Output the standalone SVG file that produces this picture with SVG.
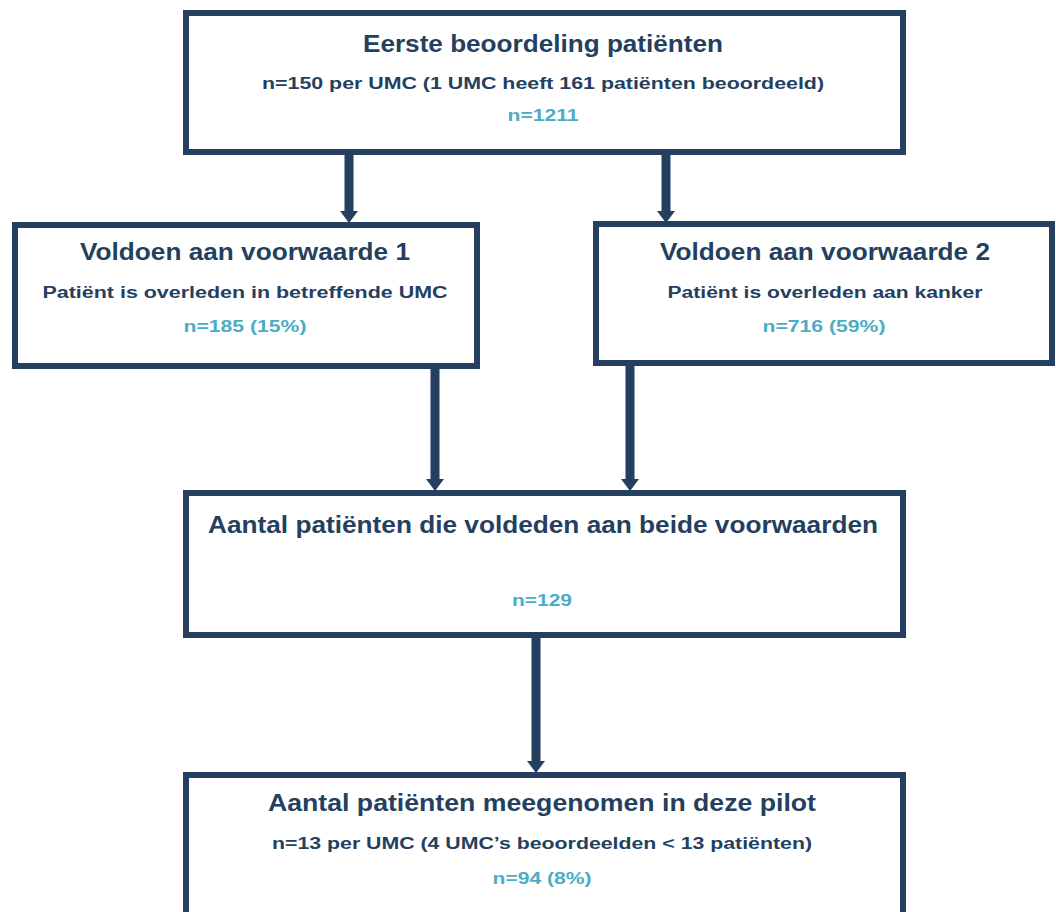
<svg xmlns="http://www.w3.org/2000/svg" width="1056" height="912" viewBox="0 0 1056 912">
<style>
.box{fill:#fff;stroke:#243F60;stroke-width:6}
.t{font-family:"Liberation Sans",Arial,sans-serif;font-weight:bold;fill:#243F60;text-anchor:middle}
.h{font-size:23px}
.s{font-size:16px}
.n{font-size:16px;fill:#4BACC6}
.c{stroke:#243F60;stroke-width:9;fill:none}
</style>
<defs>
<marker id="ah" markerUnits="userSpaceOnUse" viewBox="0 0 12 18" markerWidth="12" markerHeight="18" refX="0" refY="9" orient="auto">
<path d="M0,0 L12,9 L0,18 z" fill="#243F60"/>
</marker>
</defs>
<rect width="1056" height="912" fill="#fff"/>
<g id="connectors">
<line class="c" x1="349" y1="148" x2="349" y2="211" marker-end="url(#ah)"/>
<line class="c" x1="666" y1="148" x2="666" y2="211" marker-end="url(#ah)"/>
<line class="c" x1="435" y1="362" x2="435" y2="479" marker-end="url(#ah)"/>
<line class="c" x1="630" y1="360" x2="630" y2="479" marker-end="url(#ah)"/>
<line class="c" x1="536" y1="634" x2="536" y2="761" marker-end="url(#ah)"/>
</g>
<g id="n1">
<rect class="box" x="186" y="13" width="717" height="139"/>
<text class="t h" x="543" y="52" textLength="360" lengthAdjust="spacingAndGlyphs">Eerste beoordeling patiënten</text>
<text class="t s" x="543" y="89" textLength="562" lengthAdjust="spacingAndGlyphs">n=150 per UMC (1 UMC heeft 161 patiënten beoordeeld)</text>
<text class="t n" x="543" y="121" textLength="71" lengthAdjust="spacingAndGlyphs">n=1211</text>
</g>
<g id="n2">
<rect class="box" x="15" y="225" width="462" height="141"/>
<text class="t h" x="245" y="260" textLength="330" lengthAdjust="spacingAndGlyphs">Voldoen aan voorwaarde 1</text>
<text class="t s" x="245" y="298" textLength="405" lengthAdjust="spacingAndGlyphs">Patiënt is overleden in betreffende UMC</text>
<text class="t n" x="245" y="332" textLength="123" lengthAdjust="spacingAndGlyphs">n=185 (15%)</text>
</g>
<g id="n3">
<rect class="box" x="596" y="224" width="456" height="139"/>
<text class="t h" x="825" y="260" textLength="330" lengthAdjust="spacingAndGlyphs">Voldoen aan voorwaarde 2</text>
<text class="t s" x="825" y="298" textLength="315" lengthAdjust="spacingAndGlyphs">Patiënt is overleden aan kanker</text>
<text class="t n" x="824" y="332" textLength="123" lengthAdjust="spacingAndGlyphs">n=716 (59%)</text>
</g>
<g id="n4">
<rect class="box" x="186" y="493" width="717" height="142"/>
<text class="t h" x="543" y="533" textLength="670" lengthAdjust="spacingAndGlyphs">Aantal patiënten die voldeden aan beide voorwaarden</text>
<text class="t n" x="542" y="606" textLength="60" lengthAdjust="spacingAndGlyphs">n=129</text>
</g>
<g id="n5">
<rect class="box" x="186" y="775" width="717" height="160"/>
<text class="t h" x="542" y="811" textLength="548" lengthAdjust="spacingAndGlyphs">Aantal patiënten meegenomen in deze pilot</text>
<text class="t s" x="542" y="849" textLength="540" lengthAdjust="spacingAndGlyphs">n=13 per UMC (4 UMC’s beoordeelden &lt; 13 patiënten)</text>
<text class="t n" x="542" y="884" textLength="99" lengthAdjust="spacingAndGlyphs">n=94 (8%)</text>
</g>
</svg>
